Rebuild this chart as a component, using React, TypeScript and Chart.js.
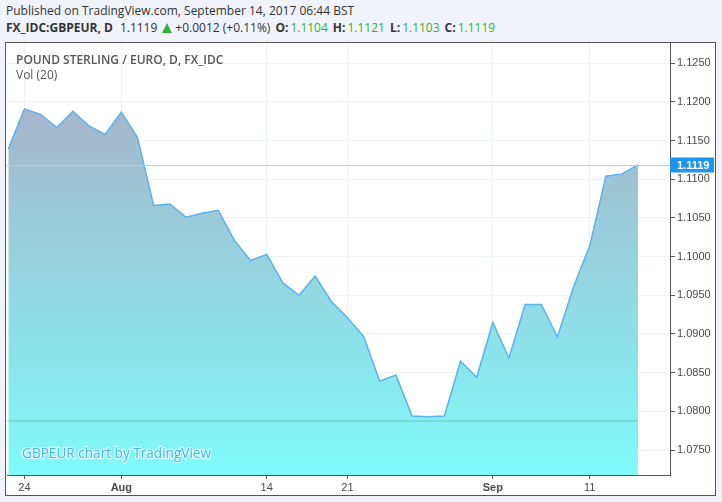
import React, { useEffect, useRef } from 'react';
import { Chart, registerables } from 'chart.js';

Chart.register(...registerables);

// Trading days Jul 21 – Sep 14, 2017
const dates = [
  'Jul 21', 'Jul 24', 'Jul 25', 'Jul 26', 'Jul 27', 'Jul 28', 'Jul 31',
  'Aug 1', 'Aug 2', 'Aug 3', 'Aug 4', 'Aug 7', 'Aug 8', 'Aug 9', 'Aug 10', 'Aug 11',
  'Aug 14', 'Aug 15', 'Aug 16', 'Aug 17', 'Aug 18', 'Aug 21', 'Aug 22', 'Aug 23', 'Aug 24', 'Aug 25',
  'Aug 28', 'Aug 29', 'Aug 30', 'Aug 31', 'Sep 1', 'Sep 4', 'Sep 5', 'Sep 6', 'Sep 7', 'Sep 8',
  'Sep 11', 'Sep 12', 'Sep 13', 'Sep 14',
];
const closes = [
  1.1139, 1.1191, 1.1184, 1.1167, 1.1188, 1.1169, 1.1158,
  1.1187, 1.1154, 1.1066, 1.1068, 1.1051, 1.1056, 1.1060, 1.1021, 1.0995,
  1.1003, 1.0966, 1.0950, 1.0975, 1.0942, 1.0921, 1.0897, 1.0839, 1.0847, 1.0794,
  1.0793, 1.0794, 1.0865, 1.0844, 1.0915, 1.0869, 1.0938, 1.0938, 1.0896, 1.0961,
  1.1014, 1.1104, 1.1107, 1.1119,
];
const yTickValues = [1.075, 1.08, 1.085, 1.09, 1.095, 1.1, 1.105, 1.11, 1.115, 1.12, 1.125];
const xTickIndices = [1, 7, 16, 21, 30, 36];
const xTickLabels = ['24', 'Aug', '14', '21', 'Sep', '11'];
const volLevel = 1.07875;
const lastPrice = 1.1119;
const yMin = 1.07177;
const yMax = 1.12762;
const xMin = -0.08;
const xMax = 40.97;

const GREEN = '#37b037';

export default function App() {
  const canvasRef = useRef<HTMLCanvasElement | null>(null);

  useEffect(() => {
    const canvas = canvasRef.current;
    if (!canvas) return;

    const overlay = {
      id: 'tvOverlay',
      afterDatasetsDraw(chart: any) {
        const { ctx, chartArea, scales } = chart;
        const py = Math.round(scales.y.getPixelForValue(lastPrice)) + 0.5;
        ctx.save();
        ctx.strokeStyle = '#9fd6f6';
        ctx.lineWidth = 1;
        ctx.beginPath();
        ctx.moveTo(chartArea.left, py);
        ctx.lineTo(chartArea.right, py);
        ctx.stroke();
        // watermark
        ctx.font = '13.6px "Open Sans"';
        ctx.textBaseline = 'middle';
        ctx.textAlign = 'left';
        ctx.lineWidth = 2.5;
        ctx.strokeStyle = 'rgba(235,255,255,0.8)';
        ctx.strokeText('GBPEUR chart by TradingView', 22, 454);
        ctx.fillStyle = '#4cb4ec';
        ctx.fillText('GBPEUR chart by TradingView', 22, 454);
        ctx.restore();
      },
      afterDraw(chart: any) {
        const { ctx, chartArea, scales } = chart;
        const py = scales.y.getPixelForValue(lastPrice);
        ctx.save();
        ctx.fillStyle = '#1e95f0';
        ctx.fillRect(chartArea.right, Math.round(py) - 7.5, 44, 15);
        ctx.fillStyle = '#ffffff';
        ctx.font = 'bold 11px Arial';
        ctx.textBaseline = 'middle';
        ctx.textAlign = 'left';
        ctx.fillText(lastPrice.toFixed(4), chartArea.right + 7, Math.round(py) + 0.5);
        ctx.restore();
      },
    };

    const chart = new Chart(canvas, {
      type: 'line',
      data: {
        labels: dates,
        datasets: [
          {
            data: closes.map((v, i) => ({ x: i, y: v })),
            borderColor: '#5ab2ee',
            borderWidth: 1.5,
            pointRadius: 0,
            tension: 0,
            order: 1,
            fill: 'start',
            backgroundColor: (c: any) => {
              const ch = c.chart;
              const area = ch.chartArea;
              if (!area) return 'rgba(140,210,225,1)';
              const top = ch.scales.y.getPixelForValue(Math.max(...closes));
              const g = ch.ctx.createLinearGradient(0, top, 0, area.bottom);
              g.addColorStop(0, '#a6b6cb');
              g.addColorStop(1, '#7ffafa');
              return g;
            },
          },
          {
            data: [{ x: xMin, y: volLevel }, { x: closes.length - 1, y: volLevel }],
            borderColor: 'rgba(100,165,150,0.6)',
            borderWidth: 1,
            pointRadius: 0,
            order: 0,
            fill: false,
          },
        ],
      },
      options: {
        animation: false,
        responsive: false,
        maintainAspectRatio: false,
        layout: { padding: { left: 7, top: 43, right: 0, bottom: 7 } },
        plugins: { legend: { display: false }, tooltip: { enabled: false } },
        scales: {
          x: {
            type: 'linear',
            min: xMin,
            max: xMax,
            afterBuildTicks: (axis: any) => {
              axis.ticks = xTickIndices.map((v) => ({ value: v }));
            },
            afterFit: (axis: any) => {
              axis.height = 20;
            },
            grid: { color: '#eef3f6', tickColor: '#555', tickLength: 4, drawOnChartArea: true },
            border: { color: '#555', width: 1 },
            ticks: {
              autoSkip: false,
              maxRotation: 0,
              padding: 2,
              color: '#4a4a4a',
              font: (c: any) => {
                const idx = xTickIndices.indexOf(c.tick ? c.tick.value : -1);
                const lbl = idx >= 0 ? xTickLabels[idx] : '';
                return { family: 'Arial', size: 11, weight: /^[A-Za-z]/.test(lbl) ? 'bold' : 'normal' };
              },
              callback: (v: any) => {
                const idx = xTickIndices.indexOf(v);
                return idx >= 0 ? xTickLabels[idx] : '';
              },
            },
          },
          y: {
            type: 'linear',
            position: 'right',
            min: yMin,
            max: yMax,
            afterBuildTicks: (axis: any) => {
              axis.ticks = yTickValues.map((v) => ({ value: v }));
            },
            afterFit: (axis: any) => {
              axis.width = 52;
            },
            grid: { color: '#eef3f6', tickColor: '#555', tickLength: 5 },
            border: { color: '#555', width: 1 },
            ticks: {
              padding: 2,
              color: '#4a4a4a',
              font: { family: 'Arial', size: 11 },
              callback: (v: any) => Number(v).toFixed(4),
            },
          },
        },
      },
      plugins: [overlay],
    });

    return () => chart.destroy();
  }, []);

  const font = '"Open Sans", sans-serif';
  const tri = (
    <span
      style={{
        display: 'inline-block',
        width: 0,
        height: 0,
        borderLeft: '5.5px solid transparent',
        borderRight: '5.5px solid transparent',
        borderBottom: `10px solid ${GREEN}`,
        marginLeft: 5,
        marginRight: 3,
        verticalAlign: '-1px',
      }}
    />
  );
  return (
    <div style={{ position: 'absolute', left: 0, top: 0, width: 722, height: 502, background: '#f0f3fa', overflow: 'hidden', fontFamily: font }}>
      <div style={{ position: 'absolute', left: 6, top: 3, fontSize: 12, color: '#333', whiteSpace: 'nowrap', lineHeight: '16px' }}>
        Published on TradingView.com, September 14, 2017 06:44 BST
      </div>
      <div style={{ position: 'absolute', left: 6, top: 20, fontSize: 12, color: '#333', whiteSpace: 'nowrap', lineHeight: '16px' }}>
        <b>FX_IDC:GBPEUR, D</b>
        <span style={{ marginLeft: 7 }}>1.1119</span>
        {tri}
        <span>+0.0012 (+0.11%)</span>
        <b style={{ marginLeft: 5 }}>O:</b><span style={{ color: GREEN, marginLeft: 2 }}>1.1104</span>
        <b style={{ marginLeft: 5 }}>H:</b><span style={{ color: GREEN, marginLeft: 2 }}>1.1121</span>
        <b style={{ marginLeft: 5 }}>L:</b><span style={{ color: GREEN, marginLeft: 2 }}>1.1103</span>
        <b style={{ marginLeft: 5 }}>C:</b><span style={{ color: GREEN, marginLeft: 2 }}>1.1119</span>
      </div>
      <div style={{ position: 'absolute', left: 5, top: 42, width: 709, height: 452, background: '#fff', border: '1px solid #555' }} />
      <canvas ref={canvasRef} width={722} height={502} style={{ position: 'absolute', left: 0, top: 0, width: 722, height: 502 }} />
      <div style={{ position: 'absolute', left: 16, top: 52, fontSize: 12, fontWeight: 600, color: '#555', whiteSpace: 'nowrap', lineHeight: '16px' }}>
        POUND STERLING / EURO, D, FX_IDC
      </div>
      <div style={{ position: 'absolute', left: 16, top: 67, fontSize: 12, color: '#555', whiteSpace: 'nowrap', lineHeight: '16px' }}>
        Vol (20)
      </div>
    </div>
  );
}
